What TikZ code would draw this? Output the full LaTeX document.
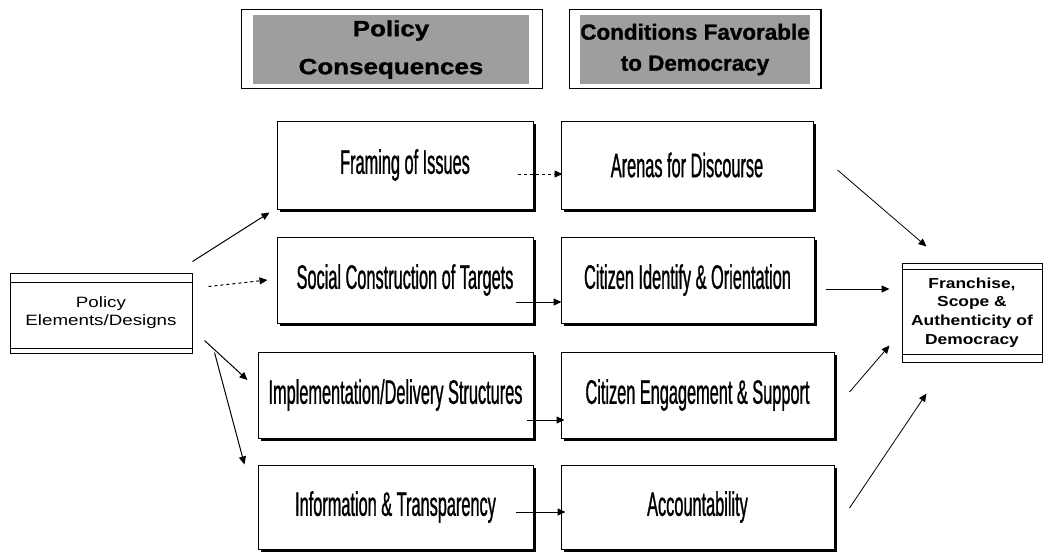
\documentclass[tikz,border=0pt]{standalone}
\usepackage{fontspec}
\setmainfont{Liberation Sans}
\newfontfamily\narrowf[FakeStretch=0.48,FakeBold=0.8]{Liberation Sans}
\newfontfamily\hdrA[FakeStretch=1.18,FakeBold=1.2]{Liberation Sans}
\newfontfamily\hdrB[FakeStretch=1.02,FakeBold=1.2]{Liberation Sans}
\newfontfamily\widef[FakeStretch=1.2]{Liberation Sans}
\newfontfamily\polf[FakeStretch=1.25]{Liberation Sans}
\usetikzlibrary{arrows.meta,shadows}
\tikzset{
  rbox/.style={draw, line width=1pt, fill=white,
    drop shadow={shadow xshift=3pt, shadow yshift=-3pt, fill=black, opacity=1},
    font=\narrowf\fontsize{34}{38}\selectfont, inner sep=0pt},
  hdr/.style={fill=black!38, inner sep=0pt, align=center},
  frm/.style={draw, line width=1.2pt},
  arr/.style={line width=1pt, -{Triangle[length=8pt,width=7pt]}},
  thinarr/.style={line width=0.8pt, -{Triangle[length=8pt,width=7pt]}},
  dbox/.style={draw, line width=1pt, fill=white, align=center, inner sep=0pt},
}
\begin{document}
\begin{tikzpicture}[x=1pt,y=-1pt]
\useasboundingbox (0,0) rectangle (1046,554);

% headers
\node[hdr, minimum width=276, minimum height=69,
  font=\hdrA\bfseries\fontsize{22}{38}\selectfont] (h1) at (391,49.5) {Policy\\Consequences};
\draw[frm] ([shift={(-11,-5)}]h1.north west) rectangle ([shift={(13,4)}]h1.south east);
\node[hdr, minimum width=212, minimum height=69,
  font=\hdrB\bfseries\fontsize{22}{31}\selectfont] (h2) at (695,49.5) {Conditions Favorable\\to Democracy};
\draw[frm] ([shift={(-11,-5)}]h2.north west) rectangle ([shift={(11,4)}]h2.south east);

% left box
\node[dbox, minimum width=182, minimum height=80,
  font=\polf\fontsize{15}{18}\selectfont] (pol) at (101,313) {Policy\\Elements/Designs};
\draw[line width=1pt] ([shift={(0,10)}]pol.north west) -- ([shift={(0,10)}]pol.north east);
\draw[line width=1.6pt] ([shift={(0,-5)}]pol.south west) -- ([shift={(0,-5)}]pol.south east);

% right box
\node[dbox, minimum width=140, minimum height=99,
  font=\widef\bfseries\fontsize{14.5}{18.7}\selectfont] (fra) at (972,312.5)
  {Franchise,\\Scope \&\\Authenticity of\\Democracy};
\draw[line width=1pt] ([shift={(0,7)}]fra.north west) -- ([shift={(0,7)}]fra.north east);
\draw[line width=1pt] ([shift={(0,-8)}]fra.south west) -- ([shift={(0,-8)}]fra.south east);

% middle boxes
\node[rbox, minimum width=256, minimum height=88] (fr) at (405,165) {Framing of Issues};
\node[rbox, minimum width=252, minimum height=88] (ar) at (687,165) {Arenas for Discourse};
\node[rbox, minimum width=256, minimum height=86] (sc) at (405,280) {Social Construction of Targets};
\node[rbox, minimum width=253, minimum height=86] (ci) at (687.5,280) {Citizen Identify \& Orientation};
\node[rbox, minimum width=275, minimum height=86] (im) at (395.5,395) {Implementation/Delivery Structures};
\node[rbox, minimum width=273, minimum height=86] (ce) at (697.5,395) {Citizen Engagement \& Support};
\node[rbox, minimum width=275, minimum height=84] (in) at (395.5,507) {Information \& Transparency};
\node[rbox, minimum width=273, minimum height=84] (ac) at (697.5,507) {Accountability};

% arrows from policy elements
\draw[arr] ([shift={(0,-11)}]pol.north east) -- ([shift={(-7,3)}]fr.south west);
\draw[arr, dashed] ([shift={(16,14)}]pol.north east) -- ([shift={(-9,0)}]sc.west);
\draw[arr] ([shift={(12,-13)}]pol.south east) -- ([shift={(-10,-15)}]im.west);
\draw[arr] ([shift={(22,-1)}]pol.south east) -- ([shift={(-13,0)}]in.north west);

% middle arrows
\draw[arr, dashed] ([shift={(-16,9)}]fr.east) -- ([shift={(2,9)}]ar.west);
\draw[arr] ([shift={(-18,22)}]sc.east) -- ([shift={(1,22)}]ci.west);
\draw[arr] ([shift={(-7,25)}]im.east) -- ([shift={(4,25)}]ce.west);
\draw[arr] ([shift={(-18,5)}]in.east) -- ([shift={(5,5)}]ac.west);

% arrows to franchise
\draw[thinarr] ([shift={(24,5)}]ar.east) -- ([shift={(25,-16)}]fra.north west);
\draw[arr] ([shift={(11,9)}]ci.east) -- ([shift={(-12,-23.5)}]fra.west);
\draw[thinarr] ([shift={(15,-3)}]ce.east) -- ([shift={(-12,-17)}]fra.south west);
\draw[thinarr] ([shift={(15,1)}]ac.east) -- ([shift={(25,31)}]fra.south west);
\end{tikzpicture}
\end{document}
